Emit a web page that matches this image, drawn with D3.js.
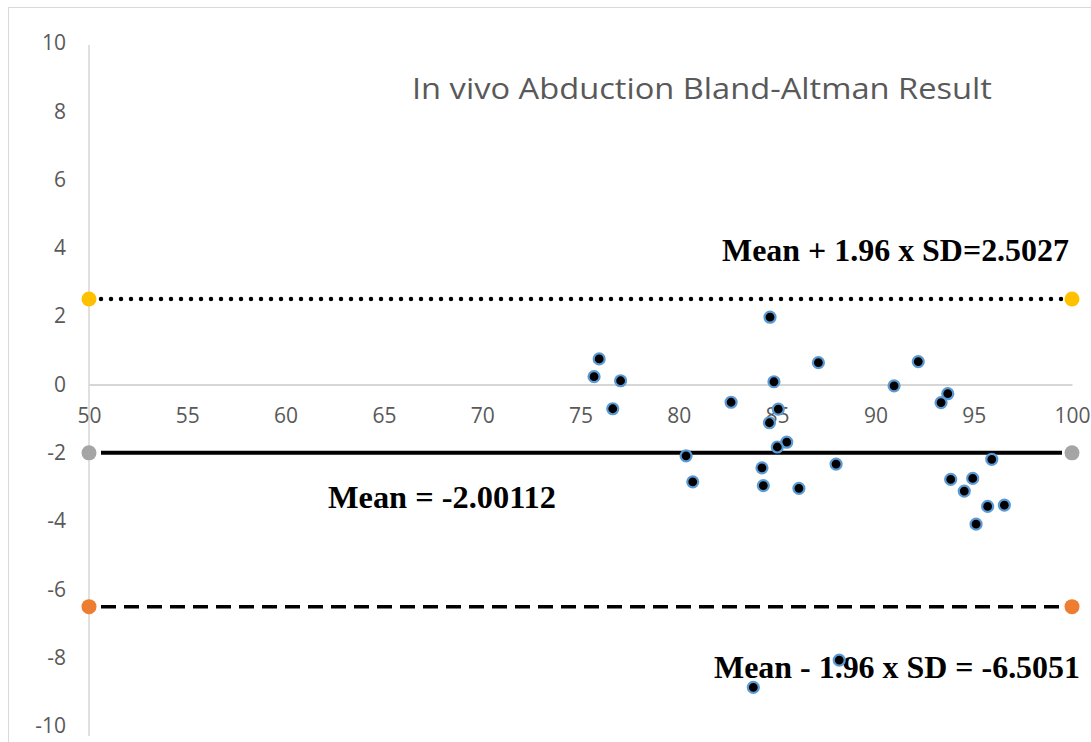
<!DOCTYPE html>
<html>
<head>
<meta charset="utf-8">
<script src="https://cdn.jsdelivr.net/npm/d3@7"></script>
<style>
  body { margin: 0; background: #fff; }
  svg { display: block; }
</style>
</head>
<body>
<div id="vis"></div>
<script>
// data
const meanVals = [83.79, 88.16, 84.64, 75.95, 75.69, 77.04, 76.64, 82.66, 84.84, 87.10,
  85.06, 84.61, 85.49, 85.01, 80.37, 80.71, 84.23, 84.30, 86.11, 88.00,
  92.18, 90.95, 93.68, 93.34, 95.92, 93.83, 94.95, 94.52, 95.71, 96.56, 95.12];
const diffVals = [-8.87, -8.07, 1.97, 0.75, 0.23, 0.11, -0.71, -0.52, 0.08, 0.64,
  -0.72, -1.12, -1.69, -1.83, -2.09, -2.85, -2.44, -2.96, -3.04, -2.33,
  0.67, -0.04, -0.27, -0.53, -2.19, -2.78, -2.75, -3.12, -3.57, -3.53, -4.09];
const xTicks = [50, 55, 60, 65, 70, 75, 80, 85, 90, 95, 100];
const yTicks = [-10, -8, -6, -4, -2, 0, 2, 4, 6, 8, 10];
const limitNames = ["upper", "mean", "lower"];
const limitVals = [2.5027, -2.00112, -6.5051];
const limitLabels = ["Mean + 1.96 x SD=2.5027", "Mean = -2.00112", "Mean - 1.96 x SD = -6.5051"];

let width = 1091, height = 742;

let svg = d3.select("#vis")
  .append("svg")
  .attr("width", width)
  .attr("height", height);

// chart border
svg.append("rect")
  .attr("x", 8.5).attr("y", 7.5)
  .attr("width", 1100).attr("height", 760)
  .attr("fill", "none")
  .attr("stroke", "#d9d9d9");

let x = d3.scaleLinear().domain([50, 100]).range([89, 1072]);
let y = d3.scaleLinear().domain([-10, 10]).range([726, 43]);

// plain hyphen for negatives, like the original
let fmt = d => String(d);

// y axis
let yAxis = svg.append("g")
  .attr("transform", `translate(${x(50)},0)`)
  .call(d3.axisLeft(y).tickValues(yTicks).tickSize(0).tickPadding(23).tickFormat(fmt));
yAxis.select(".domain").remove();
yAxis.selectAll("text")
  .style("font-family", "'Open Sans', sans-serif")
  .style("font-size", "21px")
  .attr("fill", "#595959");
svg.append("line")
  .attr("x1", x(50)).attr("x2", x(50))
  .attr("y1", y(10) + 2).attr("y2", 736)
  .attr("stroke", "#d0d0d0").attr("stroke-width", 1.3);

// x axis through zero
let xAxis = svg.append("g")
  .attr("transform", `translate(0,${y(0)})`)
  .call(d3.axisBottom(x).tickValues(xTicks).tickSize(0).tickPadding(24).tickFormat(fmt));
xAxis.select(".domain").attr("stroke", "#c8c8c8").attr("stroke-width", 1.3);
xAxis.selectAll("text")
  .style("font-family", "'Open Sans', sans-serif")
  .style("font-size", "21px")
  .attr("fill", "#595959");

// title
svg.append("text")
  .attr("x", 412).attr("y", 99)
  .attr("textLength", 580)
  .attr("lengthAdjust", "spacingAndGlyphs")
  .style("font-family", "'Open Sans', sans-serif")
  .style("font-size", "30px")
  .attr("fill", "#595959")
  .text("In vivo Abduction Bland-Altman Result");

// limit lines
const lineStyle = {
  upper: { dash: "0,10", cap: "round", w: 4.5, end: "#ffc000" },
  mean: { dash: null, cap: "butt", w: 4, end: "#a5a5a5" },
  lower: { dash: "15,8", cap: "butt", w: 3.5, end: "#ed7d31" }
};
limitNames.forEach((name, i) => {
  let st = lineStyle[name];
  svg.append("line")
    .attr("x1", x(50) + 12).attr("x2", x(100) - 10)
    .attr("y1", y(limitVals[i])).attr("y2", y(limitVals[i]))
    .attr("stroke", "#000")
    .attr("stroke-width", st.w)
    .attr("stroke-linecap", st.cap)
    .attr("stroke-dasharray", st.dash);
  svg.append("g").selectAll("circle")
    .data([50, 100])
    .join("circle")
    .attr("cx", d => x(d))
    .attr("cy", y(limitVals[i]))
    .attr("r", 7.5)
    .attr("fill", st.end);
});

// limit labels
const labelPos = [
  { x: 722, y: 261, w: 347 },
  { x: 328, y: 508, w: 228 },
  { x: 714, y: 678, w: 366 }
];
svg.append("g").selectAll("text")
  .data(limitLabels)
  .join("text")
  .attr("x", (d, i) => labelPos[i].x)
  .attr("y", (d, i) => labelPos[i].y)
  .attr("textLength", (d, i) => labelPos[i].w)
  .attr("lengthAdjust", "spacingAndGlyphs")
  .style("font-family", "'Liberation Serif', 'Times New Roman', serif")
  .style("font-weight", "bold")
  .style("font-size", "32px")
  .attr("fill", "#000")
  .text(d => d);

// dots
svg.append("g")
  .selectAll("circle")
  .data(meanVals.map((m, i) => ({ m: m, d: diffVals[i] })))
  .join("circle")
  .attr("cx", d => x(d.m))
  .attr("cy", d => y(d.d))
  .attr("r", 5.5)
  .attr("fill", "#000")
  .attr("stroke", "#5b9bd5")
  .attr("stroke-width", 2.2);
</script>
</body>
</html>
